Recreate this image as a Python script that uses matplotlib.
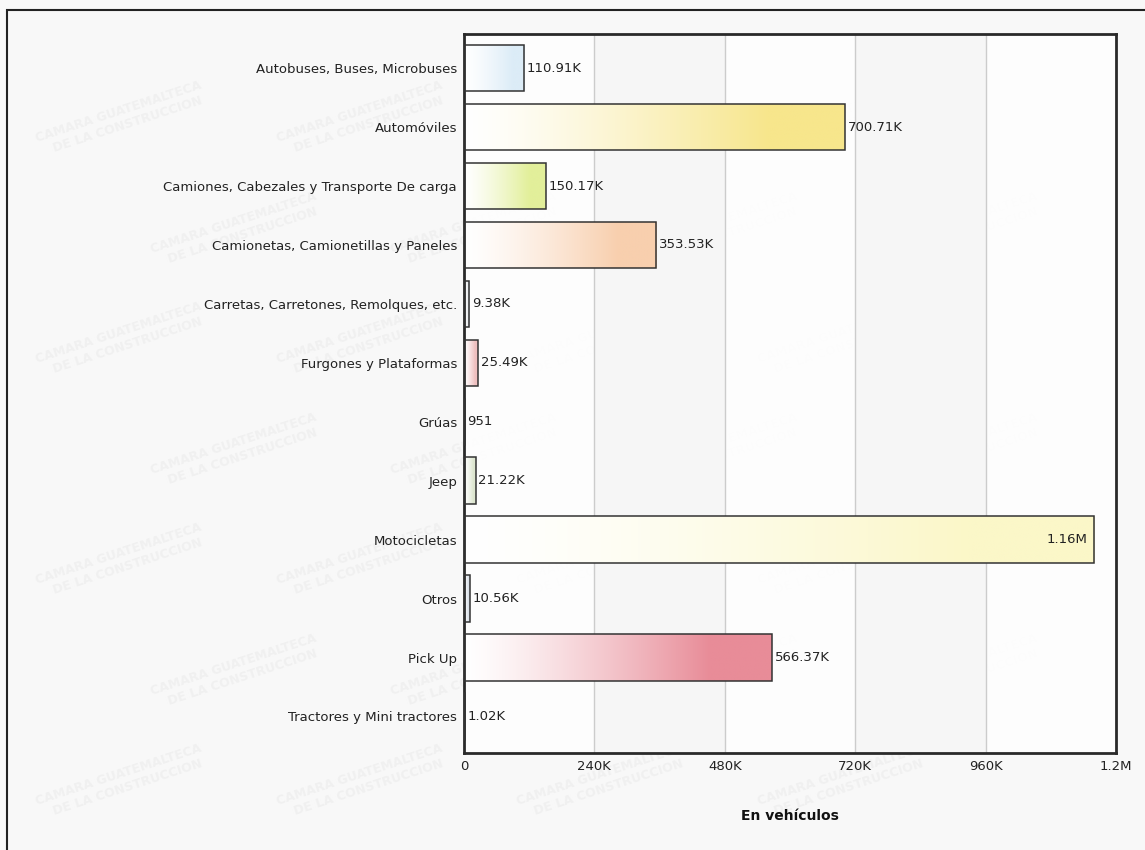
import numpy as np
import matplotlib
matplotlib.use("Agg")
import matplotlib.pyplot as plt
from matplotlib.colors import to_rgb
from matplotlib.patches import Rectangle

categories = [
    "Autobuses, Buses, Microbuses",
    "Automóviles",
    "Camiones, Cabezales y Transporte De carga",
    "Camionetas, Camionetillas y Paneles",
    "Carretas, Carretones, Remolques, etc.",
    "Furgones y Plataformas",
    "Grúas",
    "Jeep",
    "Motocicletas",
    "Otros",
    "Pick Up",
    "Tractores y Mini tractores",
]
values = [110910, 700710, 150170, 353530, 9380, 25490, 951, 21220,
          1160000, 10560, 566370, 1020]
bar_colors = ["#dcecf7", "#f7e68c", "#e2ef9a", "#f8cfae", "#e4e8ec", "#efc0c0",
              "#d8e4ec", "#dde6cf", "#fbf7c8", "#d6dde6", "#e88c98", "#e6e6e6"]
xticks = [0, 240000, 480000, 720000, 960000, 1200000]
xtick_labels = ["0", "240K", "480K", "720K", "960K", "1.2M"]


def fmt(v):
    if v >= 1e6:
        return "{:.2f}M".format(v / 1e6)
    if v >= 1e3:
        return "{:.2f}K".format(v / 1e3)
    return str(v)


fig = plt.figure(figsize=(11.45, 8.5), dpi=100)
fig.patch.set_facecolor("#f8f8f8")

# outer frame
fig.add_artist(Rectangle((7 / 1145, -0.01), 1.02, 1 - 10 / 850 + 0.01,
                         transform=fig.transFigure, fill=False,
                         edgecolor="#222222", linewidth=1.5))

# faint background watermark, kept behind everything
for row, y in enumerate(np.arange(0.08, 0.95, 0.13)):
    shift = 0.0 if row % 2 == 0 else 0.1
    for x in np.arange(0.03 + shift, 0.84, 0.21):
        fig.text(x, y, "CAMARA GUATEMALTECA\n   DE LA CONSTRUCCION",
                 fontsize=9, fontweight="bold", color="#f0f0f0",
                 rotation=18, ha="left", va="center", zorder=-5)

ax = fig.add_axes([464 / 1145, 1 - 753 / 850, (1116 - 464) / 1145,
                   (753 - 34) / 850])
ax.set_facecolor((1, 1, 1, 0.85))

n = len(categories)
ypos = np.arange(n)

# alternating column shading between gridlines
for i in range(len(xticks) - 1):
    if i % 2 == 1:
        ax.axvspan(xticks[i], xticks[i + 1], color="#f6f6f6",
                   zorder=0, linewidth=0)
for xt in xticks[1:-1]:
    ax.axvline(xt, color="#cccccc", linewidth=1, zorder=1)

bar_h = 0.79
grad = np.linspace(0, 1, 256)
for y, v, c in zip(ypos, values, bar_colors):
    rgb = np.array(to_rgb(c))
    t = np.clip(grad * 1.25, 0, 1) ** 1.3
    img = (1 - t)[:, None] * np.ones(3) + t[:, None] * rgb
    img = img[None, :, :]
    im = ax.imshow(img, extent=[0, v, y + bar_h / 2, y - bar_h / 2],
                   aspect="auto", zorder=2, interpolation="bilinear")
    rect = Rectangle((0, y - bar_h / 2), v, bar_h, fill=False,
                     edgecolor="#333333", linewidth=1.1, zorder=3)
    ax.add_patch(rect)
    im.set_clip_path(rect)
    if v > 1000000:
        ax.text(v - 12000, y, fmt(v), ha="right", va="center",
                fontsize=9.5, color="#222222", zorder=4)
    else:
        ax.text(v + 5000, y, fmt(v), ha="left", va="center",
                fontsize=9.5, color="#222222", zorder=4)

ax.set_xlim(0, 1200000)
ax.set_ylim(n - 0.5 + 0.12, -0.5 - 0.08)
ax.set_yticks(ypos)
ax.set_yticklabels(categories, fontsize=9.5, color="#222222")
ax.set_xticks(xticks)
ax.set_xticklabels(xtick_labels, fontsize=9.5, color="#222222")
ax.tick_params(axis="both", length=0, pad=5)
for s in ax.spines.values():
    s.set_linewidth(2)
    s.set_color("#2a2a2a")

ax.set_xlabel("En vehículos", fontsize=10, fontweight="bold",
              color="#111111", labelpad=26)

fig.savefig("out.png", dpi=100, facecolor=fig.get_facecolor())
